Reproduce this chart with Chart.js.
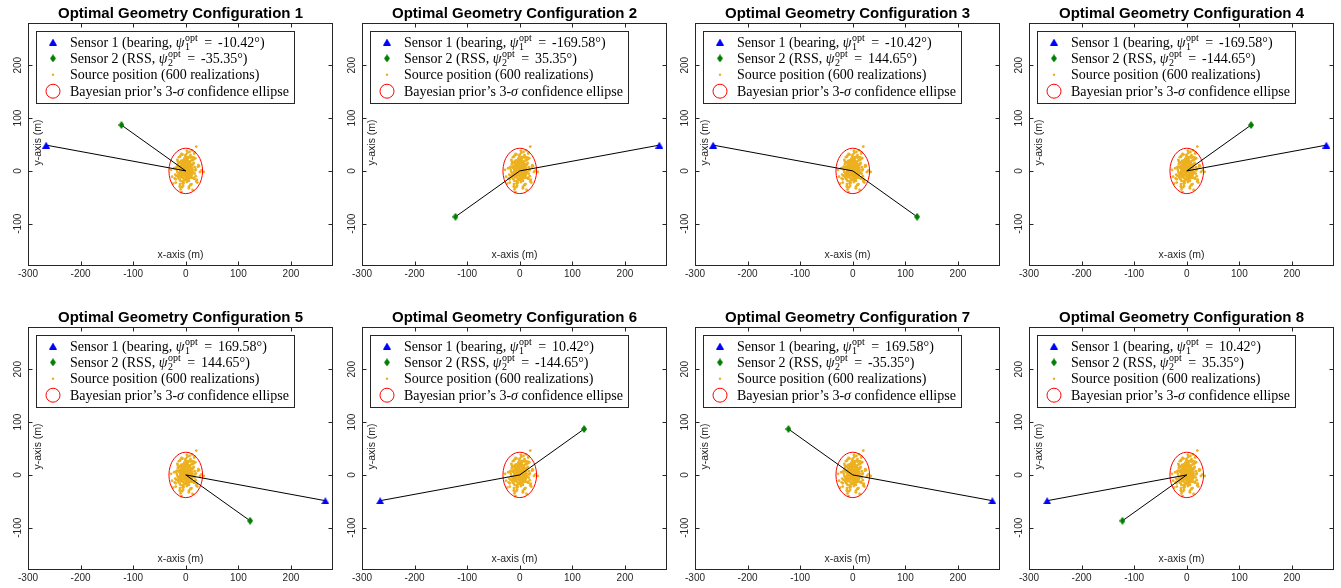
<!DOCTYPE html>
<html>
<head>
<meta charset="utf-8">
<script src="https://cdn.jsdelivr.net/npm/chart.js@4.4.0/dist/chart.umd.min.js"></script>
<style>
  html, body { margin: 0; padding: 0; background: #fff; overflow: hidden; }
  #wrap { position: relative; width: 1341px; height: 588px; }
  #wrap canvas { position: absolute; }
</style>
</head>
<body>
<div id="wrap"></div>
<script>
// optimal bearing / RSS angles per configuration (degrees)
const psi1 = [-10.42, -169.58, -10.42, -169.58, 169.58, 10.42, 169.58, 10.42];
const psi2 = [-35.35, 35.35, 144.65, -144.65, 144.65, -144.65, -35.35, 35.35];

// sensor positions (m)
const sensor1X = [-265.5, 265.5, -265.5, 265.5, 265.5, -265.5, 265.5, -265.5];
const sensor1Y = [48.8, 48.8, 48.8, 48.8, -48.8, -48.8, -48.8, -48.8];
const sensor2X = [-122.3, -122.3, 122.3, 122.3, 122.3, 122.3, -122.3, -122.3];
const sensor2Y = [86.8, -86.8, -86.8, 86.8, -86.8, 86.8, 86.8, -86.8];

// prior mean and 3-sigma ellipse half axes (m)
const sourceX = 0, sourceY = 0;
const ellipseHalfX = 32, ellipseHalfY = 43;

// source position realizations (m)
const srcX = [3, -7, 12, -2, 15, -11, 5, 0, -18, 8, 21, -4, -13, 9, 2, -6, 17, -9, 6, -1,
  11, -15, 4, -3, 25, -8, 7, -21, 1, 13, -5, 10, -12, 3, -16, 19, -2, 6, -10, 14,
  0, -7, 8, -24, 5, 16, -3, 9, -14, 2, 12, -6, -1, 22, -9, 4, 7, -19, 10, -4,
  1, 15, -11, 6, -2, 18, -8, 3, -13, 11, -5, 27, 0, -17, 8, 5, -10, 13, -3, 2,
  -6, 9, -22, 16, 4, -1, -12, 7, 20, -7, 3, -15, 10, -4, 14, -9, 1, 6, -28, 12,
  -2, 8, -11, 5, 17, -6, 0, -14, 11, 3, -8, 23, -3, 7, -18, 9, 2, -5, 13, -10,
  4, -1, 19, -13, 6, -7, 10, 1, -16, 15, -4, 8, -20, 3, 12, -9, 0, 5, -6, 24,
  -2, 11, -12, 7, -3, 16, -8, 2, 9, -15, 4, -10, 14, -1, 6, -5, 30, -11, 3, 8,
  -19, 10, -7, 1, 13, -4, 5, -26, 18, -2, 7, -9, 11, -14, 0, 4, -6, 21, -3, 9,
  -12, 2, 15, -8, 6, -1, -17, 12, 3, -5, 8, -10, 1, 17, -13, 5, 20, 34,
  2, -4, 7, -9, 0, 5, -2, 10, -6, 3, -11, 8, -1, 4, -7, 12, -3, 6, -8, 1,
  9, -5, 3, -10, 6, -2, 11, -4, 0, 7, -7, 2, -12, 5, 8, -1, -5, 10, -3, 4,
  -9, 1, 6, -6, 3, 9, -2, -8, 5, 0, 11, -4, 7, -10, 2, -6, 4, 8, -1, -3,
  6, -11, 1, 9, -5, 3, -7, 10, 0, -2, 5, -9, 7, -4, 2, 12, -6, 4, -1, 8];
const srcY = [-12, 8, 20, -3, 15, -25, 4, 31, -9, 2, -17, 11, 26, -6, 1, -20, 7, 14, -33, 5,
  -1, 18, -11, 23, 9, -7, 36, -14, 0, 12, -28, 6, 16, -4, 21, -10, 3, -19, 29, -2,
  10, -8, 17, -24, 13, -15, 2, 25, -5, 38, -13, 7, 19, -22, 4, -1, 27, -16, 9, 15,
  -6, 22, -30, 11, -3, 1, 32, -18, 6, -9, 14, -2, 24, 8, -12, 18, -35, 3, 12, -7,
  20, -26, 5, -14, 10, 28, -4, 16, -20, 0, 34, -11, 7, -23, 13, -1, 19, -8, 2, 26,
  -17, 9, -29, 15, -5, 4, 21, -13, 11, -3, -40, 8, 17, -10, 6, 30, -21, 1, 12, -6,
  23, -15, 3, -9, 16, -31, 10, 5, -2, 25, -18, 14, -7, 7, 39, -12, 2, 18, -24, 11,
  -4, 20, -16, 9, -1, 33, -10, 4, -27, 13, 6, -19, 22, -5, 15, -8, 1, 27, -14, 8,
  -22, 12, -3, 17, -36, 5, 10, -11, 24, -6, 3, 19, -25, 14, -2, 7, 31, -17, 0, 12,
  -9, 21, -13, 6, -30, 16, 2, -5, 26, -20, 9, 4, -15, 35, -7, 11, 46, -2,
  5, -8, 12, 2, -14, -3, 9, -6, 15, 0, 7, -11, 3, -16, 10, -2, 13, -9, 4, 16,
  -5, 8, -12, 1, 11, -7, 6, 14, -10, -1, 3, -15, 9, -4, 12, 6, -13, 2, 10, -8,
  -3, 15, -6, 7, -11, 4, 13, -1, 8, -9, 0, 11, -14, 5, -5, 16, 2, -12, 9, -7,
  14, -2, -10, 6, 3, -16, 12, -4, 7, -8, 1, 10, -13, 4, 15, -6, 8, -11, -2, 5];

const xTicks = [-300, -200, -100, 0, 100, 200];
const yTicks = [-100, 0, 100, 200];
const xRange = [-300, 280];
const yRange = [-180, 280];

const colLeft = [0, 334, 667, 1001];
const rowTop = [0, 304];

const AXIS_COLOR = '#262626';
const SRC_COLOR = '#EDB120';
const S1_COLOR = '#0000ff';
const S2_COLOR = '#007f00';
const ELL_COLOR = '#ff0000';

Chart.defaults.font.family = "'Liberation Sans', Arial, sans-serif";

// small bitmap markers so the diamond can be taller than wide
function makeMarker(w, h, color, shape) {
  const c = document.createElement('canvas');
  c.width = w; c.height = h;
  const g = c.getContext('2d');
  g.fillStyle = color;
  g.beginPath();
  if (shape === 'tri') {
    g.moveTo(w / 2, 0); g.lineTo(w, h); g.lineTo(0, h);
  } else {
    g.moveTo(w / 2, 0); g.lineTo(w, h / 2); g.lineTo(w / 2, h); g.lineTo(0, h / 2);
  }
  g.closePath();
  g.fill();
  return c;
}
const triMarker = makeMarker(8, 7, S1_COLOR, 'tri');
const diaMarker = makeMarker(6, 8, S2_COLOR, 'dia');

const SERIF = "'Liberation Serif', 'Times New Roman', serif";
function drawRich(ctx, parts, x, y, measureOnly) {
  for (const p of parts) {
    if (p.gap) { x += p.gap; continue; }
    if (p.sup !== undefined) {
      ctx.font = '10px ' + SERIF;
      const w = Math.max(ctx.measureText(p.sup).width, ctx.measureText(p.sub).width);
      if (!measureOnly) {
        ctx.fillText(p.sup, x + 0.5, y - 6);
        ctx.fillText(p.sub, x + 0.5, y + 3);
      }
      x += w + 1;
    } else {
      ctx.font = (p.it ? 'italic ' : '') + '14px ' + SERIF;
      if (!measureOnly) ctx.fillText(p.t, x, y);
      x += ctx.measureText(p.t).width;
    }
  }
  return x;
}

const panelDecor = {
  id: 'panelDecor',
  afterDatasetDraw(chart, args) {
    if (args.index !== 2) return;
    const { ctx, chartArea: a, scales: { x, y } } = chart;
    const cx = x.getPixelForValue(sourceX), cy = y.getPixelForValue(sourceY);
    const rx = Math.abs(x.getPixelForValue(sourceX + ellipseHalfX) - cx);
    const ry = Math.abs(y.getPixelForValue(sourceY + ellipseHalfY) - cy);
    ctx.save();
    ctx.beginPath();
    ctx.rect(a.left, a.top, a.right - a.left, a.bottom - a.top);
    ctx.clip();
    ctx.beginPath();
    ctx.ellipse(cx, cy, rx, ry, 0, 0, 2 * Math.PI);
    ctx.strokeStyle = ELL_COLOR;
    ctx.lineWidth = 1;
    ctx.stroke();
    ctx.restore();
  },
  afterDraw(chart, args, opts) {
    const i = opts.panel;
    const { ctx, chartArea: a, scales: { x, y } } = chart;
    ctx.save();

    // title centred over the axes box
    ctx.fillStyle = '#000';
    ctx.font = "bold 15px 'Liberation Sans', Arial, sans-serif";
    ctx.textAlign = 'center';
    ctx.textBaseline = 'alphabetic';
    ctx.fillText('Optimal Geometry Configuration ' + (i + 1), (a.left + a.right) / 2, a.top - 5);

    // box and inward ticks on all four sides
    ctx.strokeStyle = AXIS_COLOR;
    ctx.lineWidth = 1;
    const L = Math.round(a.left) + 0.5, R = Math.round(a.right) - 0.5;
    const T = Math.round(a.top) + 0.5, B = Math.round(a.bottom) - 0.5;
    ctx.strokeRect(L, T, R - L, B - T);
    ctx.beginPath();
    for (const v of xTicks) {
      const px = Math.round(x.getPixelForValue(v)) + 0.5;
      ctx.moveTo(px, B); ctx.lineTo(px, B - 4);
      ctx.moveTo(px, T); ctx.lineTo(px, T + 4);
    }
    for (const v of yTicks) {
      const py = Math.round(y.getPixelForValue(v)) + 0.5;
      ctx.moveTo(L, py); ctx.lineTo(L + 4, py);
      ctx.moveTo(R, py); ctx.lineTo(R - 4, py);
    }
    ctx.stroke();

    // axis labels sit inside the box
    ctx.fillStyle = AXIS_COLOR;
    ctx.font = "10.5px 'Liberation Sans', Arial, sans-serif";
    ctx.textBaseline = 'middle';
    ctx.fillText('x-axis (m)', (a.left + a.right) / 2, a.bottom - 11);
    ctx.save();
    ctx.translate(a.left + 10, (a.top + a.bottom) / 2 - 2);
    ctx.rotate(-Math.PI / 2);
    ctx.fillText('y-axis (m)', 0, 0);
    ctx.restore();

    // legend
    const rows = [
      [{ t: 'Sensor 1 (bearing, ' }, { t: 'ψ', it: true }, { sup: 'opt', sub: '1' }, { gap: 2.5 }, { t: ' = ' }, { gap: 2.5 }, { t: psi1[i].toFixed(2) + '°)' }],
      [{ t: 'Sensor 2 (RSS, ' }, { t: 'ψ', it: true }, { sup: 'opt', sub: '2' }, { gap: 2.5 }, { t: ' = ' }, { gap: 2.5 }, { t: psi2[i].toFixed(2) + '°)' }],
      [{ t: 'Source position (600 realizations)' }],
      [{ t: 'Bayesian prior’s 3-' }, { t: 'σ', it: true }, { t: ' confidence ellipse' }]
    ];
    const textX = a.left + 42;
    let maxW = 0;
    for (const r of rows) maxW = Math.max(maxW, drawRich(ctx, r, textX, 0, true) - textX);
    const boxL = Math.round(a.left + 8) + 0.5;
    const boxT = Math.round(a.top + 8) + 0.5;
    const boxR = Math.round(textX + maxW + 5) + 0.5;
    const boxB = Math.round(a.top + 80) + 0.5;
    ctx.fillStyle = '#fff';
    ctx.fillRect(boxL, boxT, boxR - boxL, boxB - boxT);
    ctx.strokeStyle = AXIS_COLOR;
    ctx.strokeRect(boxL, boxT, boxR - boxL, boxB - boxT);

    const mx = a.left + 25;
    ctx.textAlign = 'left';
    ctx.textBaseline = 'alphabetic';
    ctx.fillStyle = '#000';
    rows.forEach((r, k) => {
      const cy = a.top + 19 + k * 16.4;
      drawRich(ctx, r, textX, cy + 4.5, false);
      if (k === 0) ctx.drawImage(triMarker, mx - 4, cy - 3.5);
      if (k === 1) ctx.drawImage(diaMarker, mx - 3, cy - 4);
      if (k === 2) {
        ctx.fillStyle = SRC_COLOR;
        ctx.beginPath(); ctx.arc(mx, cy, 1.2, 0, 2 * Math.PI); ctx.fill();
        ctx.fillStyle = '#000';
      }
      if (k === 3) {
        ctx.strokeStyle = ELL_COLOR;
        ctx.beginPath(); ctx.arc(mx, cy, 7, 0, 2 * Math.PI); ctx.stroke();
      }
    });
    ctx.restore();
  }
};

const wrap = document.getElementById('wrap');
const cloud = srcX.map((v, k) => ({ x: v, y: srcY[k] }));

for (let i = 0; i < 8; i++) {
  const cv = document.createElement('canvas');
  cv.width = 338; cv.height = 284;
  cv.style.left = colLeft[i % 4] + 'px';
  cv.style.top = rowTop[Math.floor(i / 4)] + 'px';
  wrap.appendChild(cv);

  const s1 = { x: sensor1X[i], y: sensor1Y[i] };
  const s2 = { x: sensor2X[i], y: sensor2Y[i] };
  const src = { x: sourceX, y: sourceY };

  new Chart(cv, {
    type: 'scatter',
    data: {
      datasets: [
        { data: [s1, src], showLine: true, borderColor: '#000', borderWidth: 1, pointRadius: 0, order: 2 },
        { data: [s2, src], showLine: true, borderColor: '#000', borderWidth: 1, pointRadius: 0, order: 2 },
        { data: cloud, pointRadius: 1.4, borderWidth: 0, backgroundColor: SRC_COLOR, order: 3 },
        { data: [s1], pointStyle: triMarker, order: 0 },
        { data: [s2], pointStyle: diaMarker, order: 1 }
      ]
    },
    options: {
      responsive: false,
      animation: false,
      devicePixelRatio: 1,
      events: [],
      layout: { padding: { left: 0, right: 0, top: 23, bottom: 0 } },
      scales: {
        x: {
          type: 'linear', min: xRange[0], max: xRange[1],
          grid: { display: false, drawTicks: false },
          border: { display: false },
          afterBuildTicks: s => { s.ticks = xTicks.map(v => ({ value: v })); },
          afterFit: s => { s.height = 18; },
          ticks: { color: AXIS_COLOR, font: { size: 10 }, padding: 2, autoSkip: false, maxRotation: 0 }
        },
        y: {
          type: 'linear', min: yRange[0], max: yRange[1],
          grid: { display: false, drawTicks: false },
          border: { display: false },
          afterBuildTicks: s => { s.ticks = yTicks.map(v => ({ value: v })); },
          afterFit: s => { s.width = 28; },
          ticks: { color: AXIS_COLOR, font: { size: 10 }, padding: 0, autoSkip: false,
                   minRotation: 90, maxRotation: 90, crossAlign: 'center' }
        }
      },
      plugins: {
        legend: { display: false },
        tooltip: { enabled: false },
        title: { display: false },
        panelDecor: { panel: i }
      }
    },
    plugins: [panelDecor]
  });
}
</script>
</body>
</html>
